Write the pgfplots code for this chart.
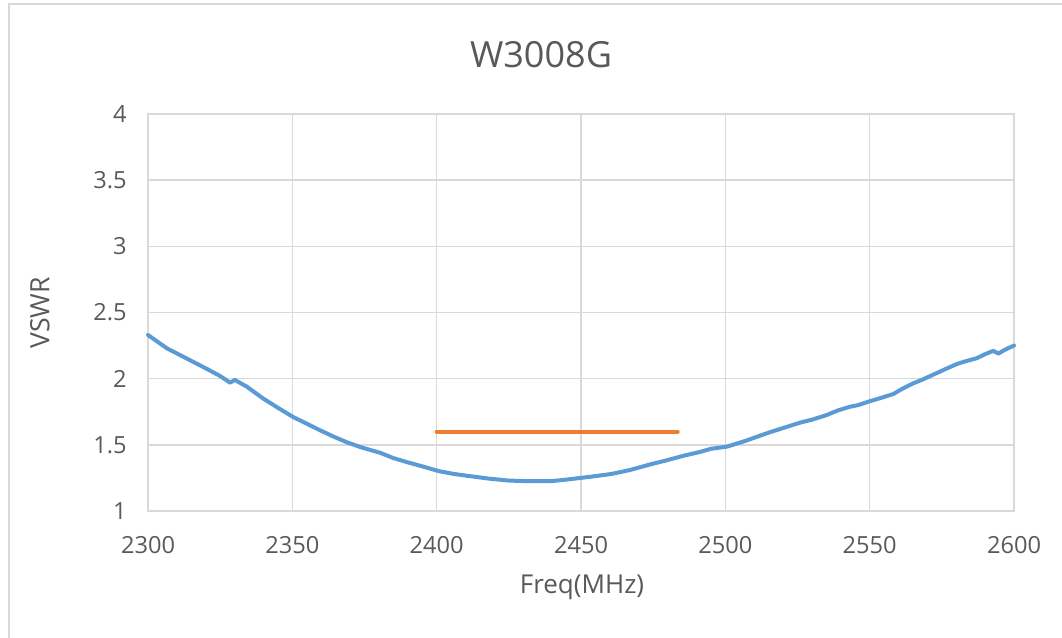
\documentclass[border=0pt]{standalone}
\usepackage{pgfplots}
\pgfplotsset{compat=1.18}
\usepackage{fontspec}
\setmainfont{Open Sans}
\definecolor{gridc}{HTML}{D9D9D9}
\definecolor{txt}{HTML}{595959}
\definecolor{blueline}{HTML}{5B9BD5}
\definecolor{orangeline}{HTML}{ED7D31}
\begin{document}
\begin{tikzpicture}
\useasboundingbox (-74pt,-63.5pt) rectangle (457pt,255.5pt);
\draw[gridc, line width=0.9pt] (-69.5pt,-70pt) -- (-69.5pt,253.5pt) -- (470pt,253.5pt);
\begin{axis}[
  at={(0pt,0pt)}, anchor=south west,
  scale only axis,
  width=433pt, height=198.5pt,
  xmin=2300, xmax=2600, ymin=1, ymax=4,
  xtick={2300,2350,...,2600},
  ytick={1,1.5,...,4},
  /pgf/number format/assume math mode=true,
  /pgf/number format/1000 sep={},
  major tick length=0pt,
  grid=major,
  grid style={gridc, line width=0.75pt},
  axis line style={gridc, line width=0.75pt},
  tick label style={font=\fontsize{11.8}{14}\selectfont, text=txt},
  xticklabel style={anchor=base, yshift=-21pt},
  yticklabel style={anchor=east, inner sep=0pt, xshift=-10.5pt},
  clip=false,
]
\addplot[blueline, line width=2pt, line join=round, line cap=round] coordinates {
(2300,2.33) (2306.5,2.23) (2314.5,2.14) (2320.3,2.075) (2325,2.02)
(2328.4,1.97) (2330.1,1.99) (2334.2,1.94) (2339.9,1.85) (2345,1.78)
(2350.3,1.71) (2355,1.66) (2359.6,1.61) (2364,1.565) (2368.8,1.52)
(2374,1.48) (2380.4,1.44) (2385,1.40) (2389.6,1.37) (2395.4,1.335)
(2401,1.30) (2406,1.28) (2411,1.265) (2418,1.245) (2425,1.23)
(2432,1.225) (2440,1.226) (2446,1.24) (2453,1.258) (2460.6,1.28)
(2467,1.31) (2474.5,1.355) (2480,1.385) (2486,1.42) (2491,1.445)
(2495,1.47) (2500.5,1.486) (2507,1.53) (2514.3,1.587) (2520,1.627)
(2525.8,1.667) (2530,1.69) (2535.1,1.725) (2539,1.76) (2543.2,1.788)
(2546,1.80) (2550.1,1.83) (2554,1.855) (2558.2,1.884) (2561,1.92)
(2565.1,1.965) (2568,1.99) (2572,2.03) (2576,2.07) (2580.1,2.11)
(2583,2.13) (2587,2.154) (2590,2.185) (2592.8,2.21) (2594.6,2.19)
(2597,2.22) (2600,2.25)
};
\addplot[orangeline, line width=2pt, line cap=round] coordinates {(2400,1.6) (2483.5,1.6)};
\end{axis}
\node[text=txt, font=\fontsize{18}{21}\selectfont] at (196.5pt,228pt) {W3008G};
\node[text=txt, font=\fontsize{13.3}{16}\selectfont, rotate=90] at (-54pt,99pt) {VSWR};
\node[text=txt, font=\fontsize{13}{16}\selectfont] at (217pt,-38pt) {Freq(MHz)};
\end{tikzpicture}
\end{document}
